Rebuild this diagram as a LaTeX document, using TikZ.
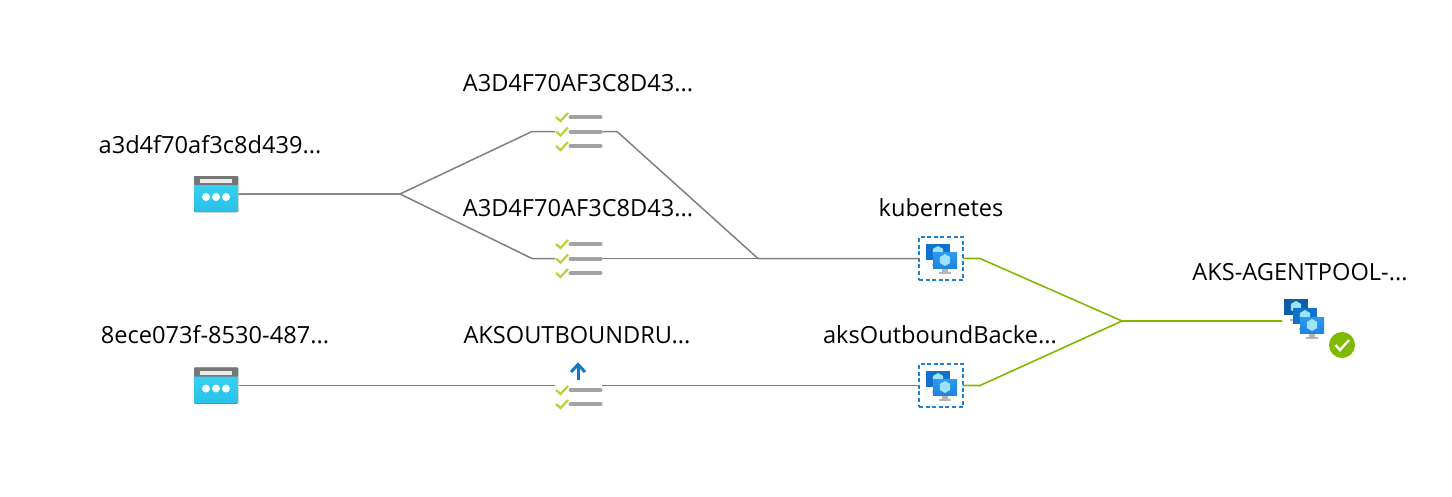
\documentclass[tikz,border=0pt]{standalone}
\usepackage{fontspec}
\setmainfont{Open Sans}
\definecolor{linegray}{HTML}{808080}
\definecolor{linegreen}{HTML}{7FBA00}
\definecolor{barray}{HTML}{A3A3A3}
\definecolor{checkgreen}{HTML}{B4D335}
\definecolor{dashblue}{HTML}{1A80D8}
\definecolor{arrowblue}{HTML}{0F78C8}
\definecolor{headgray}{HTML}{767676}
\definecolor{webtop}{HTML}{3AD6F6}
\definecolor{webbot}{HTML}{29C0E6}
\definecolor{mdark}{HTML}{0B5FA8}
\definecolor{mmid}{HTML}{0F72CC}
\definecolor{mlight}{HTML}{2E9AF0}
\definecolor{mlightb}{HTML}{1F84DC}
\definecolor{cube}{HTML}{9CE4F9}
\definecolor{standgray}{HTML}{B5B5B5}
\tikzset{
  anchorbox/.style={inner sep=0pt,outer sep=0pt,minimum width=#1,minimum height=20pt},
  label text/.style={anchor=base,inner sep=0pt,font=\fontsize{23.6pt}{26pt}\selectfont,text=black},
  grayline/.style={draw=linegray,line width=1.5pt,line join=round},
  greenline/.style={draw=linegreen,line width=1.6pt,line join=round},
  vmbox/.style={draw=dashblue,line width=1.5pt,dash pattern=on 4pt off 2.6pt,minimum width=44pt,minimum height=43pt,inner sep=0pt,outer sep=0pt},
  webicon/.pic={
    \fill[top color=webtop,bottom color=webbot,rounded corners=0.8pt] (-22,-18) rectangle (22,18);
    \fill[headgray,rounded corners=0.8pt] (-22,-18) rectangle (22,-9);
    \fill[white!92!black] (-16,-15) rectangle (16,-11);
    \foreach \dx in {-10,0,10} \fill[white!95!webtop] (\dx,3) circle (4);
  },
  listrow/.pic={
    \draw[checkgreen,line width=2.2pt] (-22.5,0) -- (-18,4) -- (-10.5,-4);
    \draw[barray,line width=4pt,line cap=round] (-8,0) -- (22,0);
  },
  monitor/.pic={
    \fill[standgray] (-3,8) rectangle (3,12);
    \fill[standgray] (-6,12) rectangle (6,14);
    \fill[pic actions] (-12,-8) rectangle (12,8);
    \fill[cube] (0,-6) -- (5.2,-3) -- (5.2,3) -- (0,6) -- (-5.2,3) -- (-5.2,-3) -- cycle;
  },
}
\begin{document}
\begin{tikzpicture}[x=1pt,y=-1pt]
\useasboundingbox (0,0) rectangle (1452,496);
\fill[white] (0,0) rectangle (1452,496);

% icon anchors
\node[anchorbox=45pt] (webA) at (216,194) {};
\node[anchorbox=45pt] (webB) at (216,385.5) {};
\node[anchorbox=47pt] (listA) at (578.5,131.5) {};
\node[anchorbox=47pt] (listB) at (578.5,258.5) {};
\node[anchorbox=47pt] (listC) at (578.5,385.5) {};
\node[vmbox] (vmA) at (941,258.5) {};
\node[vmbox] (vmB) at (941,385.5) {};
\node[anchorbox=48pt] (pool) at (1306,321) {};

% junctions
\coordinate (split) at (400,194);
\coordinate (inA) at (532,131.5);
\coordinate (inB) at (532,258.5);
\coordinate (outA) at (617,131.5);
\coordinate (merge) at (758,258.5);
\coordinate (gA) at (980,258.5);
\coordinate (gB) at (980,385.5);
\coordinate (gM) at (1122,321);

% connectors
\draw[grayline] (webA.east) -- (split) -- (inA) -- (listA.west);
\draw[grayline] (webA.east) -- (split) -- (inB) -- (listB.west);
\draw[grayline] (listA.east) -- (outA) -- (merge) -- (vmA.west);
\draw[grayline] (listB.east) -- (vmA.west);
\draw[grayline] (webB.east) -- (listC.west);
\draw[grayline] (listC.east) -- (vmB.west);
\draw[greenline] (vmA.east) -- (gA) -- (gM) -- (pool.west);
\draw[greenline] (vmB.east) -- (gB) -- (gM) -- (pool.west);

% web icons
\pic at (webA) {webicon};
\pic at (webB) {webicon};

% list icons
\foreach \dy in {-14.5,0,14.5} {
  \pic at ([yshift=\dy*1pt]listA.center) {listrow};
  \pic at ([yshift=\dy*1pt]listB.center) {listrow};
}
\pic at ([yshift=-4.5pt]listC.center) {listrow};
\pic at ([yshift=-18.5pt]listC.center) {listrow};
\draw[arrowblue,line width=3pt] (578,380) -- (578,365);
\draw[arrowblue,line width=3pt] (571,372) -- (578,364.5) -- (585,372);

% VM icons
\pic[fill=mmid] at (938,252) {monitor};
\pic[top color=mlight,bottom color=mlightb] at (945,260) {monitor};
\pic[fill=mmid] at (938,379) {monitor};
\pic[top color=mlight,bottom color=mlightb] at (945,387) {monitor};

% pool icon
\pic[fill=mdark] at (1296,307) {monitor};
\pic[fill=mmid] at (1305,316) {monitor};
\pic[top color=mlight,bottom color=mlightb] at (1312,325) {monitor};
\node[circle,fill=linegreen,minimum size=26pt,inner sep=0pt] (ok) at (1342,345) {};
\draw[white,line width=2.4pt] (1335.5,345) -- (1340,350) -- (1349,340);

% labels
\node[label text] (t1) at (210,153) {a3d4f70af3c8d439...};
\node[label text] (t2) at (215,343) {8ece073f-8530-487...};
\node[label text] (t3) at (578,91) {A3D4F70AF3C8D43...};
\node[label text] (t4) at (578,216) {A3D4F70AF3C8D43...};
\node[label text] (t5) at (577,343) {AKSOUTBOUNDRU...};
\node[label text] (t6) at (941,216.5) {kubernetes};
\node[label text] (t7) at (940,343) {aksOutboundBacke...};
\node[label text] (t8) at (1300,280) {AKS-AGENTPOOL-...};
\end{tikzpicture}
\end{document}
